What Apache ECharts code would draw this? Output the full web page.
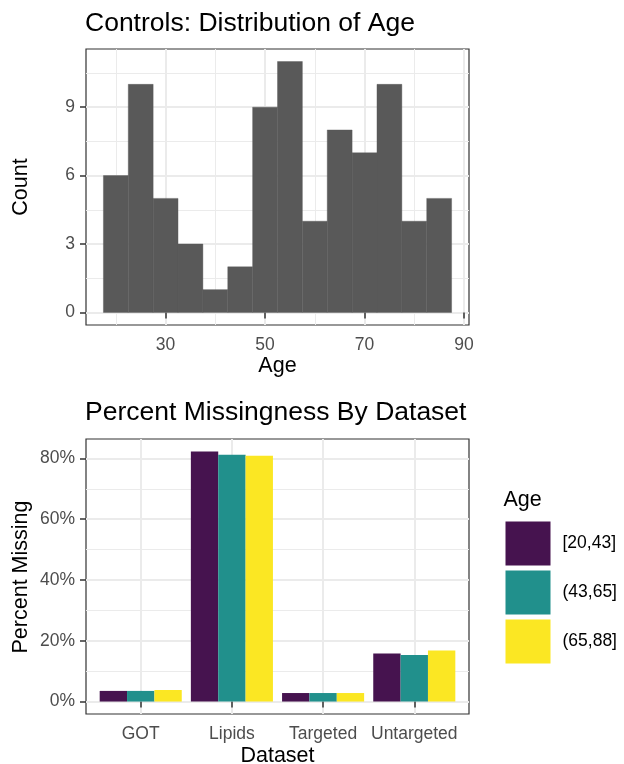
<!DOCTYPE html>
<html><head><meta charset="utf-8">
<script src="https://cdn.jsdelivr.net/npm/echarts@6/dist/echarts.min.js"></script>
<style>html,body{margin:0;padding:0;background:#fff}#c{width:624px;height:764px}</style>
</head><body><div id="c"></div>
<script>
// ---- data ----
const ageBinEdges = [17.5,22.5,27.5,32.5,37.5,42.5,47.5,52.5,57.5,62.5,67.5,72.5,77.5,82.5,87.5];
const ageCounts = [6,10,5,3,1,2,9,11,4,8,7,10,4,5];
const ageTicks = [30,50,70,90];
const ageMinorTicks = [20,40,60,80];
const countTicks = [0,3,6,9];
const countMinorTicks = [1.5,4.5,7.5,10.5];
const datasets = ['GOT','Lipids','Targeted','Untargeted'];
const ageGroups = ['[20,43]','(43,65]','(65,88]'];
const missing_20_43 = [3.5,82.3,2.8,15.8];
const missing_43_65 = [3.5,81.2,2.8,15.3];
const missing_65_88 = [3.8,80.9,2.8,16.8];
const pctTicks = [0,20,40,60,80];
const pctMinorTicks = [10,30,50,70];
const groupColors = ['#46134F','#21908C','#FBE723'];

const FONT = 'Liberation Sans, Arial, sans-serif';
const TICK_FS = 17.5, AXT_FS = 21.5, TITLE_FS = 26.5;
const GRID = '#EBEBEB', DARK = '#333333', TXT = '#4D4D4D';

const histData = ageCounts.map((c,i)=>[ageBinEdges[i], ageBinEdges[i+1], c]);
const groupSeries = [missing_20_43, missing_43_65, missing_65_88];

function majorAxis(extra){
  return Object.assign({
    type:'value',
    axisLine:{show:false},
    splitLine:{show:true,lineStyle:{color:GRID,width:2}}
  }, extra);
}
function tickCfg(vals){ return {show:true,length:6,lineStyle:{color:DARK,width:1.5},customValues:vals}; }
function labelCfg(vals, fmt){
  const o = {color:TXT,fontSize:TICK_FS,fontFamily:FONT,margin:11,customValues:vals};
  if (fmt) o.formatter = fmt;
  return o;
}
function minorAxis(extra, vals){
  return Object.assign({
    type:'value',
    axisLine:{show:false},
    axisTick:{show:false,customValues:vals},
    axisLabel:{show:false},
    splitLine:{show:true,lineStyle:{color:GRID,width:1}}
  }, extra);
}

const chart = echarts.init(document.getElementById('c'));
const offsets = [-0.3, 0, 0.3];
chart.setOption({
  animation:false,
  backgroundColor:'#fff',
  grid:[
    {left:86, top:49, width:383, height:276, show:true, borderColor:DARK, borderWidth:1.2, backgroundColor:'transparent'},
    {left:86, top:439, width:383, height:275, show:true, borderColor:DARK, borderWidth:1.2, backgroundColor:'transparent'}
  ],
  xAxis:[
    majorAxis({gridIndex:0, min:14, max:91, axisTick:tickCfg(ageTicks), axisLabel:labelCfg(ageTicks)}),
    minorAxis({gridIndex:0, min:14, max:91}, ageMinorTicks),
    majorAxis({gridIndex:1, min:0.4, max:4.6, axisTick:tickCfg([1,2,3,4]), axisLabel:labelCfg([1,2,3,4], v=>datasets[Math.round(v)-1])})
  ],
  yAxis:[
    majorAxis({gridIndex:0, min:-0.55, max:11.55, axisTick:tickCfg(countTicks), axisLabel:labelCfg(countTicks)}),
    minorAxis({gridIndex:0, min:-0.55, max:11.55, position:'left'}, countMinorTicks),
    majorAxis({gridIndex:1, min:-4.1, max:86.4, axisTick:tickCfg(pctTicks), axisLabel:labelCfg(pctTicks, '{value}%')}),
    minorAxis({gridIndex:1, min:-4.1, max:86.4, position:'left'}, pctMinorTicks)
  ],
  legend:{
    orient:'vertical', left:505.5, top:521.5, padding:0, itemWidth:45, itemHeight:44, itemGap:5,
    icon:'rect', selectedMode:false, data:ageGroups,
    textStyle:{fontSize:TICK_FS, color:'#000', fontFamily:FONT, padding:[0,0,0,7]}
  },
  graphic:[
    {type:'text', x:85, y:23.5, style:{text:'Controls: Distribution of Age', font:TITLE_FS+'px '+FONT, fill:'#000', verticalAlign:'middle', align:'left'}},
    {type:'text', x:85, y:413, style:{text:'Percent Missingness By Dataset', font:TITLE_FS+'px '+FONT, fill:'#000', verticalAlign:'middle', align:'left'}},
    {type:'text', x:277.5, y:366, style:{text:'Age', font:AXT_FS+'px '+FONT, fill:'#000', verticalAlign:'middle', align:'center'}},
    {type:'text', x:277.5, y:756, style:{text:'Dataset', font:AXT_FS+'px '+FONT, fill:'#000', verticalAlign:'middle', align:'center'}},
    {type:'text', x:21, y:187, rotation:Math.PI/2, style:{text:'Count', font:AXT_FS+'px '+FONT, fill:'#000', verticalAlign:'middle', align:'center'}},
    {type:'text', x:21, y:577, rotation:Math.PI/2, style:{text:'Percent Missing', font:AXT_FS+'px '+FONT, fill:'#000', verticalAlign:'middle', align:'center'}},
    {type:'text', x:503.5, y:500, style:{text:'Age', font:AXT_FS+'px '+FONT, fill:'#000', verticalAlign:'middle', align:'left'}}
  ],
  series:[
    {
      type:'custom', name:'hist', xAxisIndex:0, yAxisIndex:0, data:histData,
      encode:{x:[0,1], y:2},
      renderItem:(params, api)=>{
        const p0 = api.coord([api.value(0), api.value(2)]);
        const p1 = api.coord([api.value(1), 0]);
        return {type:'rect', shape:{x:p0[0], y:p0[1], width:p1[0]-p0[0], height:p1[1]-p0[1]}, style:{fill:'#595959', stroke:'#595959', lineWidth:0.4}};
      }
    }
  ].concat(ageGroups.map((g,k)=>({
    type:'custom', name:g, xAxisIndex:2, yAxisIndex:2,
    itemStyle:{color:groupColors[k]},
    data:groupSeries[k].map((v,i)=>[i+1, v]),
    encode:{x:0, y:1},
    renderItem:(params, api)=>{
      const c = api.value(0) + offsets[k];
      const p0 = api.coord([c-0.15, api.value(1)]);
      const p1 = api.coord([c+0.15, 0]);
      return {type:'rect', shape:{x:p0[0], y:p0[1], width:p1[0]-p0[0], height:p1[1]-p0[1]}, style:{fill:groupColors[k]}};
    }
  })))
});
</script></body></html>
